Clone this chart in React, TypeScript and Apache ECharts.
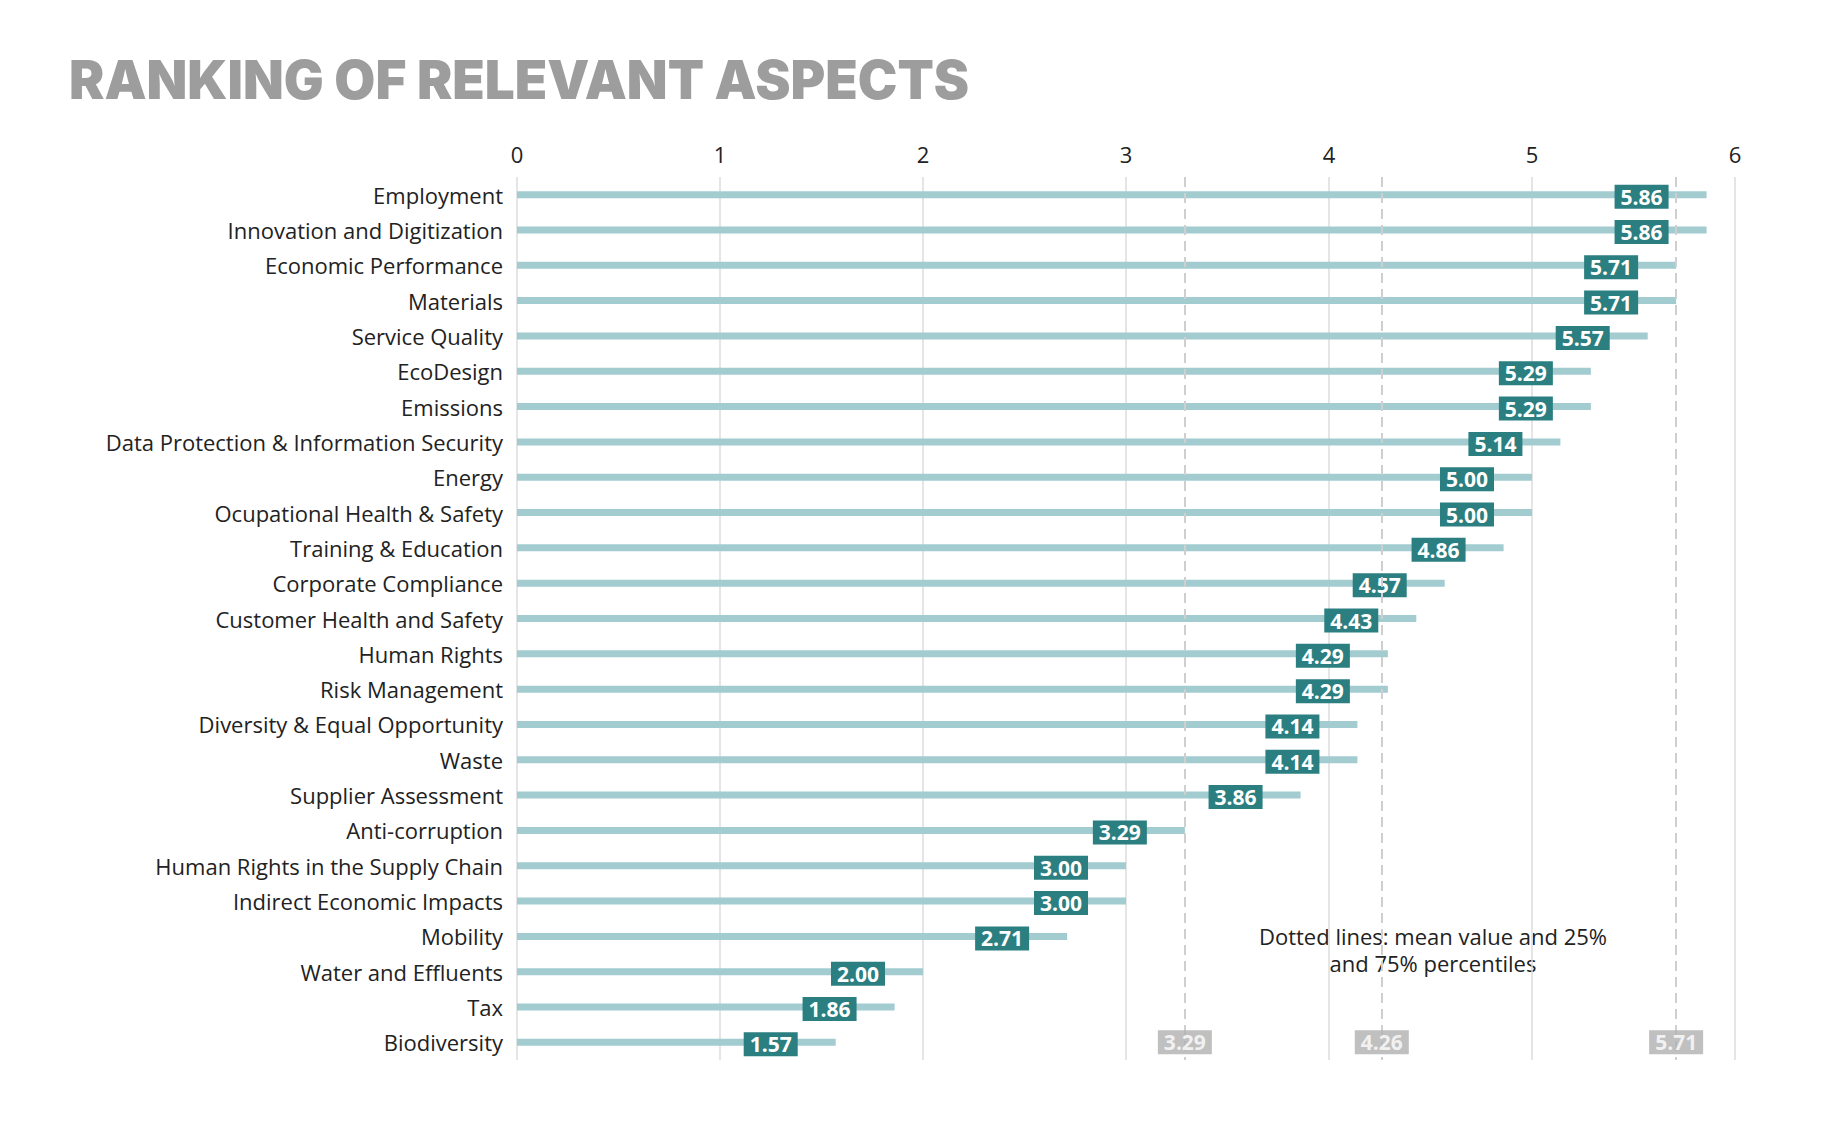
import { useEffect, useRef } from 'react'
import * as echarts from 'echarts'

const categories = [
  'Employment', 'Innovation and Digitization', 'Economic Performance', 'Materials', 'Service Quality',
  'EcoDesign', 'Emissions', 'Data Protection & Information Security', 'Energy', 'Ocupational Health & Safety',
  'Training & Education', 'Corporate Compliance', 'Customer Health and Safety', 'Human Rights', 'Risk Management',
  'Diversity & Equal Opportunity', 'Waste', 'Supplier Assessment', 'Anti-corruption', 'Human Rights in the Supply Chain',
  'Indirect Economic Impacts', 'Mobility', 'Water and Effluents', 'Tax', 'Biodiversity',
]
const scores = [
  5.86, 5.86, 5.71, 5.71, 5.57, 5.29, 5.29, 5.14, 5.0, 5.0, 4.86, 4.57, 4.43, 4.29, 4.29,
  4.14, 4.14, 3.86, 3.29, 3.0, 3.0, 2.71, 2.0, 1.86, 1.57,
]
const refLines = [3.29, 4.26, 5.71]

const FONT = '"Open Sans", Inter, sans-serif'

export default function App() {
  const chartRef = useRef<HTMLDivElement>(null)

  useEffect(() => {
    if (!chartRef.current) return
    const chart = echarts.init(chartRef.current, undefined, { renderer: 'svg' })

    chart.setOption({
      animation: false,
      backgroundColor: '#fff',
      textStyle: { fontFamily: FONT },
      title: {
        text: 'RANKING OF RELEVANT ASPECTS',
        left: 64,
        top: 48,
        textStyle: { fontFamily: 'Inter, sans-serif', fontSize: 53, fontWeight: 900, color: '#9d9d9d' },
      },
      grid: { left: 517, right: 93, top: 177, height: 883 },
      xAxis: {
        type: 'value',
        position: 'top',
        min: 0,
        max: 6,
        interval: 1,
        axisLine: { show: false },
        axisTick: { show: false },
        axisLabel: { color: '#222', fontSize: 22, margin: 12 },
        splitLine: { lineStyle: { color: '#dcdcdc', width: 1.5 } },
      },
      yAxis: {
        type: 'category',
        data: categories,
        inverse: true,
        axisLine: { show: false },
        axisTick: { show: false },
        axisLabel: { color: '#222', fontSize: 22, margin: 14 },
      },
      series: [
        {
          type: 'bar',
          data: scores,
          barWidth: 7,
          itemStyle: { color: '#a2ccd0' },
          label: {
            show: true,
            position: 'insideRight',
            distance: 38,
            formatter: (p: any) => p.value.toFixed(2),
            color: '#fff',
            fontWeight: 'bold',
            fontSize: 21,
            backgroundColor: '#2b7f80',
            padding: [2, 6, 1, 6],
            offset: [0, 2],
          },
          markLine: {
            silent: true,
            symbol: 'none',
            label: { show: false },
            lineStyle: { color: '#cfcfcf', type: [10, 6], width: 2 },
            data: refLines.map((v) => ({ xAxis: v })),
          },
        },
        {
          type: 'scatter',
          symbolSize: 0,
          data: refLines.map((v) => [v, 'Biodiversity']),
          label: {
            show: true,
            position: 'inside',
            formatter: (p: any) => p.value[0].toFixed(2),
            color: '#fff',
            fontWeight: 'bold',
            fontSize: 21,
            backgroundColor: '#b0b0b0',
            padding: [2, 6, 1, 6],
          },
          z: 5,
        },
      ],
      graphic: [
        {
          type: 'text',
          x: 1433,
          y: 922,
          style: {
            text: 'Dotted lines: mean value and 25%\nand 75% percentiles',
            textAlign: 'center',
            textVerticalAlign: 'top',
            fontFamily: FONT,
            fontSize: 22,
            lineHeight: 27,
            fill: '#222',
          },
        },
      ],
    })

    return () => chart.dispose()
  }, [])

  return <div ref={chartRef} style={{ position: 'fixed', left: 0, top: 0, width: 1828, height: 1142 }} />
}
